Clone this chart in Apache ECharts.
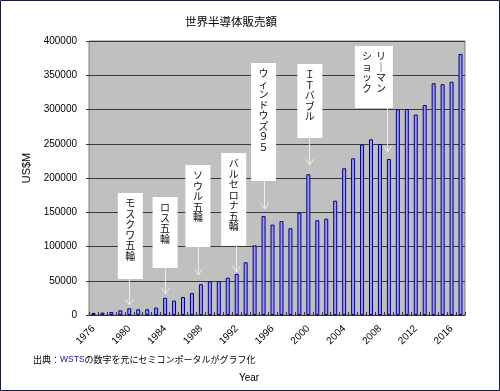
<!DOCTYPE html>
<html><head><meta charset="utf-8">
<script src="https://cdn.jsdelivr.net/npm/echarts@6/dist/echarts.min.js"></script>
<style>html,body{margin:0;padding:0;background:#fff}#c{width:500px;height:391px}</style>
</head><body><div id="c"></div><script>
// ---- data ----
const years = ['1976','1977','1978','1979','1980','1981','1982','1983','1984','1985',
  '1986','1987','1988','1989','1990','1991','1992','1993','1994','1995',
  '1996','1997','1998','1999','2000','2001','2002','2003','2004','2005',
  '2006','2007','2008','2009','2010','2011','2012','2013','2014','2015',
  '2016','2017'];
const sales = [3000, 3500, 4400, 6800, 9800, 8400, 8400, 10800, 25000, 21000,
  26300, 32000, 45000, 49200, 49600, 54500, 59900, 77000, 101700, 144400,
  132000, 137200, 126600, 149400, 205400, 138300, 140600, 166900, 214200, 228800,
  248700, 256500, 249600, 227800, 300300, 300700, 292500, 306500, 338300, 337000,
  340600, 381000];
const yMax = 400000, yStep = 50000;
const eventYears = ['1980','1984','1988','1992','1995','2000','2009'];
const eventLabels = [['モスクワ五輪'],['ロス五輪'],['ソウル五輪'],['バルセロナ五輪'],['ウィンドウズ９５'],['ＩＴバブル'],['リーマン','ショック']];
const titleText = '世界半導体販売額';
const yName = 'US$M';
const xName = 'Year';

// ---- layout for annotation boxes (pixels) ----
const boxLayout = [
  {top:193, bottom:279, w:25, dx:1,   adx:0,  tip:305},
  {top:197, bottom:268, w:25, dx:0,   adx:0,  tip:294},
  {top:165, bottom:247, w:25, dx:-3,  adx:-3, tip:275},
  {top:153, bottom:246, w:25, dx:-3,  adx:-1, tip:272},
  {top:63,  bottom:181, w:25, dx:0,   adx:0,  tip:209},
  {top:64,  bottom:138, w:25, dx:1.5, adx:0.5,tip:165},
  {top:46,  bottom:108, w:38, dx:-15, adx:-2, tip:152}
];

const chart = echarts.init(document.getElementById('c'), null, {renderer:'canvas'});
const jp = '"Noto Sans CJK JP", "Liberation Sans", sans-serif';
const num = '"Liberation Sans", Arial, sans-serif';
chart.setOption({
  animation:false,
  backgroundColor:'#ffffff',
  grid:{left:89, right:35, top:41, bottom:76, show:true, backgroundColor:'#c0c0c0', borderColor:'#808080', borderWidth:1},
  xAxis:{type:'category', data:years, boundaryGap:true,
    axisLine:{lineStyle:{color:'#333', width:1}},
    axisTick:{show:true, inside:true, length:3, interval:0, lineStyle:{color:'#333'}},
    axisLabel:{interval:3, rotate:45, fontSize:10, color:'#000', fontFamily:num, margin:12}},
  yAxis:{type:'value', min:0, max:yMax, interval:yStep,
    axisLine:{show:false},
    axisTick:{show:true, length:3, lineStyle:{color:'#333'}},
    splitLine:{lineStyle:{color:'#3a3a3a', width:1}},
    axisLabel:{fontSize:10, color:'#000', fontFamily:num, margin:12, formatter:(v)=>String(v)}},
  series:[{type:'bar', data:sales, barWidth:4,
    itemStyle:{color:'#9999ff', borderColor:'#000080', borderWidth:1}}]
});

function vert(s){ return s.replace(/ー/g,'｜').split('').join('\n'); }
const g = [];
g.push({type:'rect', shape:{x:0.5,y:0.5,width:499,height:390}, style:{fill:'none', stroke:'#1a1a40', lineWidth:1}, z:100});
g.push({type:'text', x:231, y:22, style:{text:titleText, fontSize:11.5, fontFamily:jp, fill:'#000', textAlign:'center', textVerticalAlign:'middle'}});
g.push({type:'text', x:27, y:168, rotation:Math.PI/2, style:{text:yName, fontSize:11, fontFamily:num, fill:'#000', textAlign:'center', textVerticalAlign:'middle'}});
g.push({type:'text', x:249, y:378, style:{text:xName, fontSize:10, fontFamily:num, fill:'#000', textAlign:'center', textVerticalAlign:'middle'}});
g.push({type:'text', x:33, y:360, style:{
  text:'{a|出典：}{b|WSTS}{a|の数字を元にセミコンポータルがグラフ化}',
  textVerticalAlign:'middle',
  rich:{a:{fontSize:9, fontFamily:jp, fill:'#000'}, b:{fontSize:8.5, fontFamily:num, fill:'#202080'}}}});

eventYears.forEach((yr, i) => {
  const L = boxLayout[i];
  const p = chart.convertToPixel({gridIndex:0}, [yr, 0]);
  const cx = p[0] + L.dx;
  const ax = Math.round(p[0] + L.adx) + 0.5;
  g.push({type:'rect', shape:{x:cx - L.w/2, y:L.top, width:L.w, height:L.bottom - L.top}, style:{fill:'#ffffff'}, z:50});
  const cols = eventLabels[i];
  cols.forEach((c, k) => {
    const n = cols.length;
    const colX = n === 1 ? cx : cx + (n-1)*7 - k*14;
    g.push({type:'text', x:colX, y:L.top + 5, z:51, style:{text:vert(c), fontSize:10, lineHeight:10.5, fontFamily:jp, fill:'#111', textAlign:'center', textVerticalAlign:'top'}});
  });
  g.push({type:'line', shape:{x1:ax, y1:L.bottom, x2:ax, y2:L.tip}, style:{stroke:'#ececec', lineWidth:1}, z:50});
  g.push({type:'polyline', shape:{points:[[ax-4, L.tip-6],[ax, L.tip],[ax+4, L.tip-6]]}, style:{stroke:'#ececec', lineWidth:1, fill:'none'}, z:50});
});
chart.setOption({graphic:g});
</script></body></html>
